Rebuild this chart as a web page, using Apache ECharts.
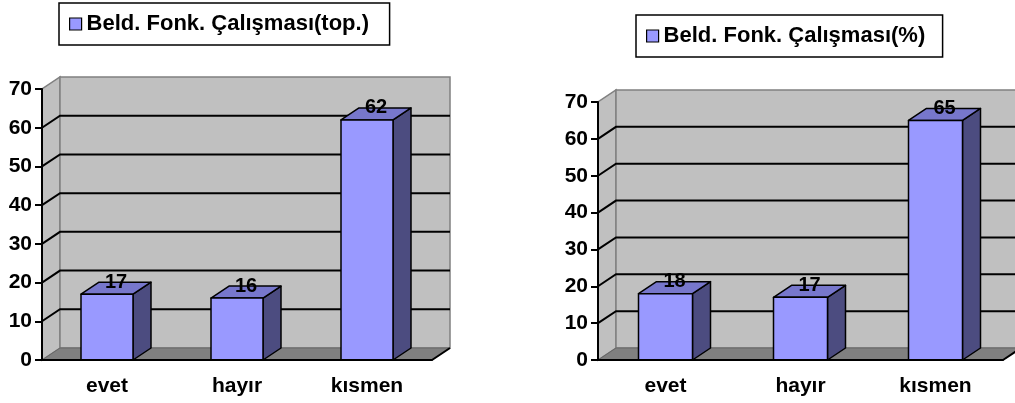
<!DOCTYPE html>
<html><head><meta charset="utf-8">
<script src="https://cdn.jsdelivr.net/npm/echarts@6/dist/echarts.min.js"></script>
<style>html,body{margin:0;padding:0;background:#fff}#c{width:1015px;height:403px}</style>
</head><body><div id="c"></div>
<script>
const categories = ['evet', 'hayır', 'kısmen'];
const countValues = [17, 16, 62];
const percentValues = [18, 17, 65];
const yTicks = [0, 10, 20, 30, 40, 50, 60, 70];
const seriesNames = ['Beld. Fonk. Çalışması(top.)', 'Beld. Fonk. Çalışması(%)'];

const FONT = "'Liberation Sans', Arial, sans-serif";
const DX = 18, DY = -12;
const WALL = '#C0C0C0', WALL_EDGE = '#808080', FLOOR = '#808080';
const BAR_FRONT = '#9999FF', BAR_TOP = '#7777CC', BAR_SIDE = '#4C4C80';

function renderWall(params, api) {
  const cs = params.coordSys;
  const v = api.value(1);
  const x0 = cs.x, x1 = cs.x + cs.width;
  const yt = cs.y, yb = cs.y + cs.height;
  const children = [];
  if (params.dataIndex === 0) {
    children.push({ type: 'polygon', shape: { points: [[x0, yb], [x0, yt], [x0 + DX, yt + DY], [x0 + DX, yb + DY]] },
      style: { fill: WALL, stroke: WALL_EDGE, lineWidth: 1.5 } });
    children.push({ type: 'polygon', shape: { points: [[x0 + DX, yt + DY], [x1 + DX, yt + DY], [x1 + DX, yb + DY], [x0 + DX, yb + DY]] },
      style: { fill: WALL, stroke: WALL_EDGE, lineWidth: 1.5 } });
    children.push({ type: 'polygon', shape: { points: [[x0, yb], [x0 + DX, yb + DY], [x1 + DX, yb + DY], [x1, yb]] },
      style: { fill: FLOOR, stroke: '#666', lineWidth: 1 } });
    children.push({ type: 'line', shape: { x1: x1, y1: yb, x2: x1 + DX, y2: yb + DY },
      style: { stroke: '#000', lineWidth: 2 } });
  } else if (v < yTicks[yTicks.length - 1]) {
    const y = api.coord([0, v])[1];
    children.push({ type: 'polyline', shape: { points: [[x0, y], [x0 + DX, y + DY], [x1 + DX, y + DY]] },
      style: { stroke: '#000', lineWidth: 2, fill: null } });
  }
  return { type: 'group', children: children };
}

function renderBar(params, api) {
  const i = api.value(0), v = api.value(1);
  const top = api.coord([i, v]), base = api.coord([i, 0]);
  const w = api.size([1, 0])[0] * 0.4;
  const xl = top[0] - w / 2, xr = top[0] + w / 2, yt = top[1], yb = base[1];
  const st = { stroke: '#000', lineWidth: 1.5, lineJoin: 'round' };
  return { type: 'group', children: [
    { type: 'polygon', shape: { points: [[xr, yt], [xr + DX, yt + DY], [xr + DX, yb + DY], [xr, yb]] },
      style: Object.assign({ fill: BAR_SIDE }, st) },
    { type: 'polygon', shape: { points: [[xl, yt], [xr, yt], [xr + DX, yt + DY], [xl + DX, yt + DY]] },
      style: Object.assign({ fill: BAR_TOP }, st) },
    { type: 'rect', shape: { x: xl, y: yt, width: w, height: yb - yt },
      style: Object.assign({ fill: BAR_FRONT }, st) },
    { type: 'text', z2: 10, style: { text: String(v), x: top[0] + DX / 2, y: yt + DY,
      align: 'center', verticalAlign: 'middle', font: 'bold 20px ' + FONT, fill: '#000' } }
  ] };
}

const ctx = document.createElement('canvas').getContext('2d');
ctx.font = "bold 22px 'Liberation Sans'";
function legendPad(name, boxLeft, boxRight) {
  const tw = ctx.measureText(name).width;
  const padL = 10, itemW = 12;
  const padR = Math.max(6, boxRight - (boxLeft + padL + itemW + 5 + tw));
  return [10, padR, 10, padL];
}

const grids = [
  { left: 42, top: 89, width: 390, height: 271 },
  { left: 598, top: 102, width: 405, height: 258 }
];
const legendBoxes = [[59, 3, 389], [636, 15, 942]];
const valueSets = [countValues, percentValues];

const option = {
  animation: false,
  backgroundColor: '#fff',
  grid: grids,
  legend: seriesNames.map((n, k) => ({
    left: legendBoxes[k][0], top: legendBoxes[k][1],
    padding: legendPad(n, legendBoxes[k][0], legendBoxes[k][2]),
    borderColor: '#000', borderWidth: 1.5,
    itemWidth: 12, itemHeight: 12, icon: 'rect',
    data: [{ name: n, itemStyle: { color: BAR_FRONT, borderColor: '#000', borderWidth: 1.2 } }],
    textStyle: { fontFamily: FONT, fontWeight: 'bold', fontSize: 22, color: '#000', lineHeight: 22 },
    selectedMode: false
  })),
  xAxis: grids.map((g, k) => ({
    type: 'category', gridIndex: k, data: categories, z: 10,
    axisLine: { lineStyle: { color: '#000', width: 2 } },
    axisTick: { lineStyle: { color: '#000', width: 2 }, length: 6 },
    axisLabel: { color: '#000', fontFamily: FONT, fontWeight: 'bold', fontSize: 21, margin: 16 },
    splitLine: { show: false }
  })),
  yAxis: grids.map((g, k) => ({
    type: 'value', gridIndex: k, min: 0, max: 70, interval: 10, z: 10,
    axisLine: { show: true, lineStyle: { color: '#000', width: 2 } },
    axisTick: { show: true, lineStyle: { color: '#000', width: 2 }, length: 7 },
    axisLabel: { color: '#000', fontFamily: FONT, fontWeight: 'bold', fontSize: 21, margin: 10 },
    splitLine: { show: false }
  })),
  series: []
};
seriesNames.forEach((n, k) => {
  option.series.push({
    type: 'custom', name: 'wall' + k, xAxisIndex: k, yAxisIndex: k, z: 1, silent: true,
    renderItem: renderWall, encode: { x: 0, y: 1 },
    data: yTicks.map(v => [0, v])
  });
  option.series.push({
    type: 'custom', name: n, xAxisIndex: k, yAxisIndex: k, z: 3, silent: true,
    itemStyle: { color: BAR_FRONT },
    renderItem: renderBar, encode: { x: 0, y: 1 },
    data: valueSets[k].map((v, i) => [i, v])
  });
});

const chart = echarts.init(document.getElementById('c'), null, { renderer: 'canvas' });
chart.setOption(option);
</script></body></html>
